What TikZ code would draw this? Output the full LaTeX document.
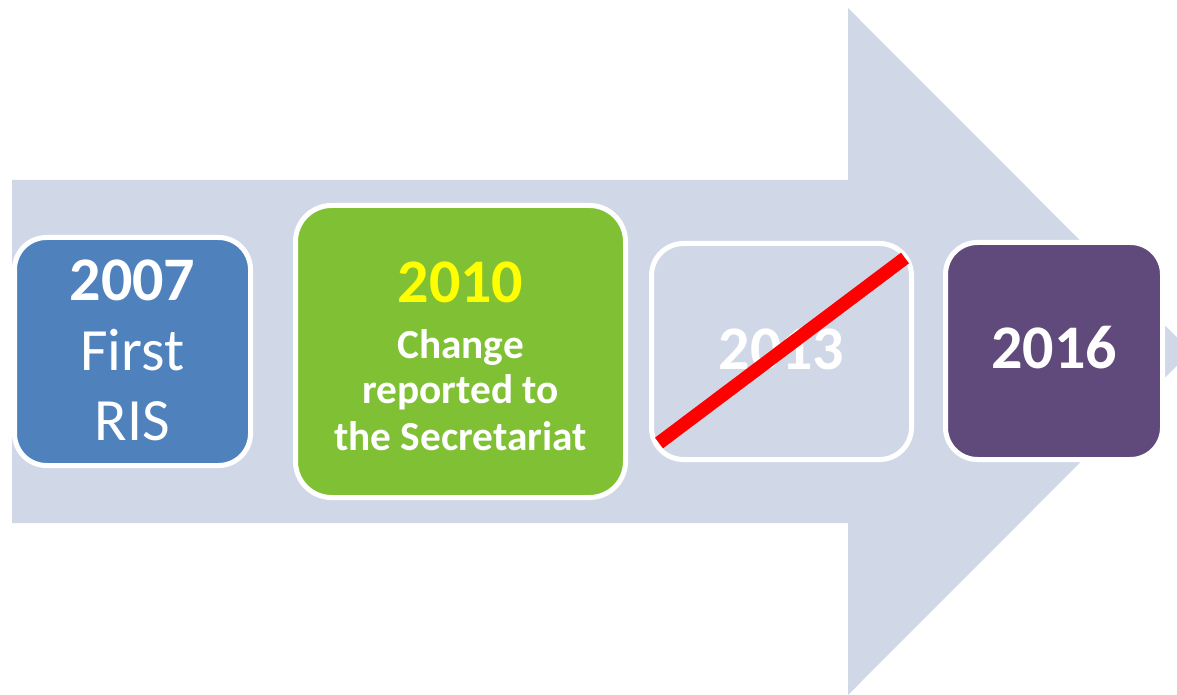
\documentclass[tikz,border=0pt]{standalone}
\usepackage{fontspec}
\setmainfont{Carlito}
\definecolor{arrowc}{HTML}{D0D8E8}
\definecolor{bluec}{HTML}{4F81BD}
\definecolor{greenc}{HTML}{80C034}
\definecolor{purplec}{HTML}{604A7B}
\definecolor{yelc}{HTML}{FFFF00}
\definecolor{redc}{HTML}{FF0000}
\tikzset{
  box/.style={draw=white, line width=3.75pt, rounded corners=24pt, inner sep=0pt},
  yr/.style={anchor=base, inner sep=0pt, text=white, font=\bfseries\fontsize{46.5}{56}\selectfont},
  big/.style={anchor=base, inner sep=0pt, text=white, font=\fontsize{45}{54}\selectfont},
  small/.style={anchor=base, inner sep=0pt, text=white, font=\bfseries\fontsize{31}{37}\selectfont},
}
\begin{document}
\begin{tikzpicture}[x=0.75pt,y=-0.75pt]
\useasboundingbox (0,0) rectangle (1177,695);
\clip (0,0) rectangle (1177,695);
% big arrow
\fill[arrowc] (12,180) -- (848,180) -- (848,8) -- (1191,351.5) -- (848,695) -- (848,523) -- (12,523) -- cycle;
% boxes
\node[box, fill=bluec, minimum width=177pt, minimum height=171pt] (b1) at (132.5,351.5) {};
\node[box, fill=greenc, minimum width=247.5pt, minimum height=219pt, rounded corners=27pt] (b2) at (460.5,351.5) {};
\node[box, minimum width=195pt, minimum height=162pt] (b3) at (781.5,351.5) {};
\node[box, fill=purplec, minimum width=162.75pt, minimum height=162.75pt] (b4) at (1054,351) {};
% texts
\node[yr] (t1a) at (132.5,300) {2007};
\node[big] (t1b) at (132.5,370) {First};
\node[big] (t1c) at (132.5,440) {RIS};
\node[yr, text=yelc] (t2a) at (460.5,302) {2010};
\node[small] (t2b) at (460.5,358) {Change};
\node[small] (t2c) at (460.5,403) {reported to};
\node[small] (t2d) at (460.5,450) {the Secretariat};
\node[yr] (t3) at (781.5,369) {2013};
\node[yr] (t4) at (1054,368) {2016};
% strike-through
\coordinate (s1) at (659,443);
\coordinate (s2) at (905,258);
\draw[redc, line width=10pt] (s1) -- (s2);
\end{tikzpicture}
\end{document}
